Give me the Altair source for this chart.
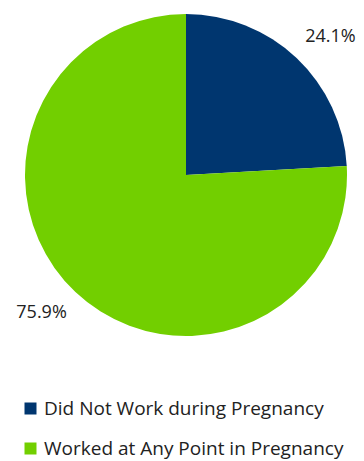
import altair as alt
import pandas as pd

categories = ["Did Not Work during Pregnancy", "Worked at Any Point in Pregnancy"]
values = [24.1, 75.9]
labels = ["24.1%", "75.9%"]
colors = ["#00366F", "#72CF00"]

df = pd.DataFrame({"category": categories, "value": values, "label": labels, "order": [0, 1]})

cx, cy, r = 178, 167, 161

base = alt.Chart(df).encode(
    theta=alt.Theta("value:Q", stack=True),
    order=alt.Order("order:Q"),
)

arcs = base.mark_arc(outerRadius=r, stroke=None).encode(
    x=alt.value(cx),
    y=alt.value(cy),
    color=alt.Color(
        "category:N",
        scale=alt.Scale(domain=categories, range=colors),
        legend=alt.Legend(
            title=None,
            orient="none",
            legendX=13,
            legendY=391,
            direction="vertical",
            symbolType="square",
            symbolSize=144,
            symbolStrokeWidth=0,
            labelFontSize=19,
            labelFont="Open Sans",
            labelColor="#222222",
            labelOffset=4,
            rowPadding=20,
            labelLimit=400,
        ),
    ),
)

text = base.mark_text(font="Open Sans", fontSize=18, color="#222222", thetaOffset=0.05).encode(
    x=alt.value(cx),
    y=alt.value(cy),
    radius=alt.value(200),
    text="label:N",
)

chart = (
    alt.layer(arcs, text)
    .properties(
        width=348,
        height=453,
        padding=0,
        autosize=alt.AutoSizeParams(type="none"),
    )
    .configure_view(stroke=None)
)

chart.save("out.html", embed_options={"renderer": "svg", "actions": False})
